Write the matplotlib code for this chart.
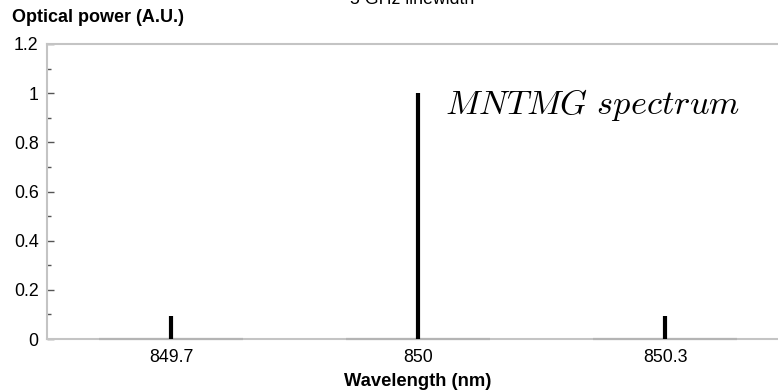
import matplotlib.pyplot as plt
from matplotlib.ticker import MultipleLocator

# spectral lines of the comb
wavelengths = [849.7, 850.0, 850.3]
powers = [0.095, 1.0, 0.095]
line_halfwidth = 0.0875  # extent of each line's baseline window (nm)
xtick_values = [849.7, 850.0, 850.3]
xtick_labels = ["849.7", "850", "850.3"]
ytick_values = [0, 0.2, 0.4, 0.6, 0.8, 1.0, 1.2]
ytick_labels = ["0", "0.2", "0.4", "0.6", "0.8", "1", "1.2"]

plt.rcParams['font.family'] = ['Liberation Sans', 'DejaVu Sans']
plt.rcParams['mathtext.fontset'] = 'cm'

fig = plt.figure(figsize=(7.78, 3.91), dpi=100)
ax = fig.add_axes([47 / 778, (391 - 339) / 391, (778 - 47) / 778, (339 - 44) / 391])

# baseline of each line window, then the lines themselves
ax.hlines([0] * len(wavelengths), [w - line_halfwidth for w in wavelengths],
          [w + line_halfwidth for w in wavelengths], color='#b4b4b4', lw=1.6, zorder=3,
          clip_on=False)
ax.vlines(wavelengths, 0, powers, color='black', lw=3, zorder=4)

ax.set_xlim(849.549, 850.437)
ax.set_ylim(0, 1.2)

ax.set_xticks(xtick_values)
ax.set_xticklabels(xtick_labels)
ax.tick_params(axis='x', length=0, labelsize=12.8, pad=7)
ax.set_yticks(ytick_values)
ax.set_yticklabels(ytick_labels)
ax.yaxis.set_minor_locator(MultipleLocator(0.1))
ax.tick_params(axis='y', which='major', direction='in', length=5, width=1,
               color='#555555', labelsize=12.8, pad=6)
ax.tick_params(axis='y', which='minor', direction='in', length=3, width=1,
               color='#555555')

for side in ['left', 'bottom', 'top']:
    ax.spines[side].set_color('#c4c4c4')
    ax.spines[side].set_linewidth(1.5)
ax.spines['right'].set_visible(False)

ax.text(850.033, 0.914, r'$MNTMG\ spectrum$', fontsize=24.8, ha='left', va='baseline')

fig.text(12 / 778, 1 - 17 / 391, 'Optical power (A.U.)', fontsize=13,
         fontweight='bold', ha='left', va='center')
fig.text(418 / 778, 1 - 381 / 391, 'Wavelength (nm)', fontsize=13.2,
         fontweight='bold', ha='center', va='center')
fig.text(412 / 778, 1 - 4 / 391, '5 GHz linewidth', fontsize=12.8,
         ha='center', va='baseline')

fig.savefig('out.png', dpi=100)
